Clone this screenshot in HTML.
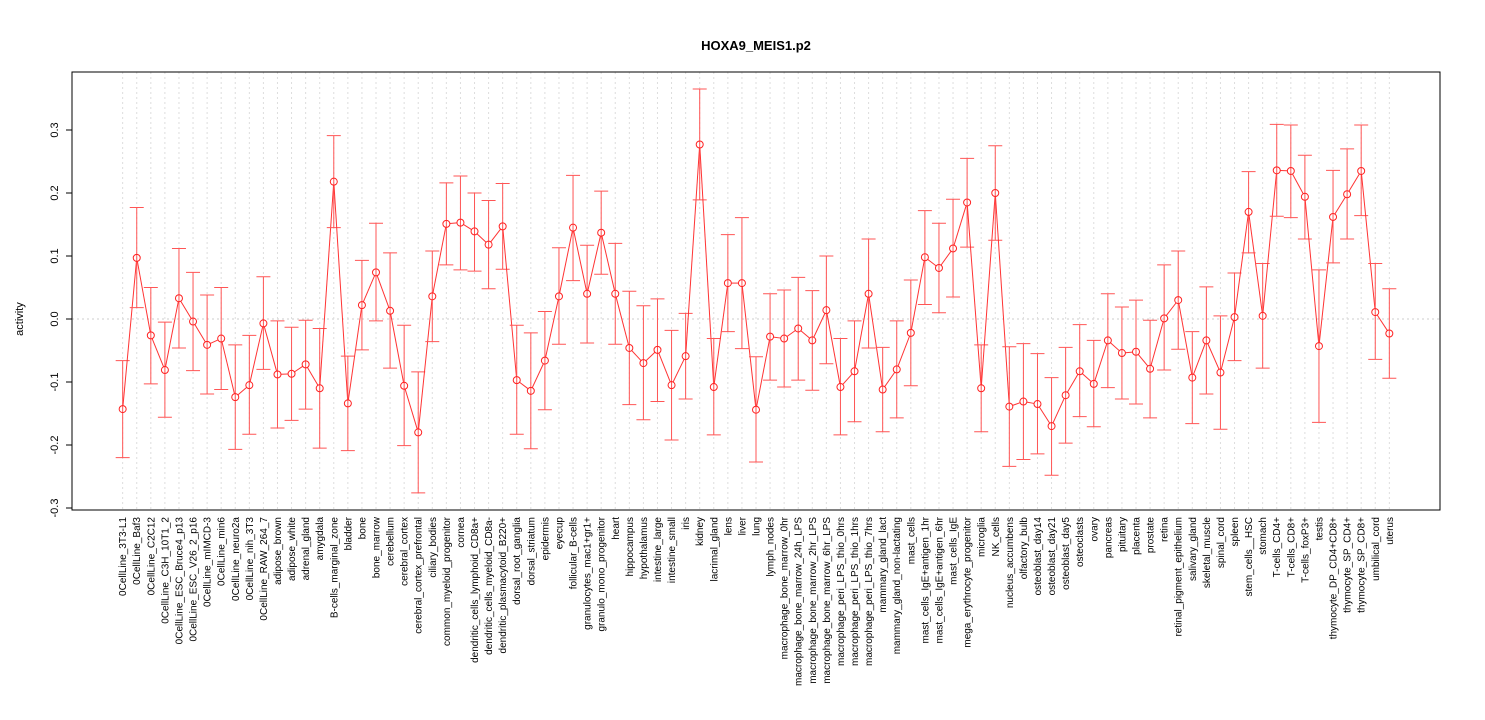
<!DOCTYPE html>
<html><head><meta charset="utf-8"><style>
body{margin:0;background:#fff;}
svg{display:block;font-family:"Liberation Sans",sans-serif;}
</style></head><body>
<svg id="chart" width="1485" height="720">
<text x="756" y="50" text-anchor="middle" font-weight="bold" font-size="13">HOXA9_MEIS1.p2</text>
<text transform="translate(23,319) rotate(-90)" text-anchor="middle" font-size="11">activity</text>
<g id="grid"></g><g id="yaxis"></g><g id="marks"></g><g id="xlabels"></g>
<rect x="72" y="72" width="1368" height="438" fill="none" stroke="#000"/>
</svg>
<script>
const categories=["0CellLine_3T3-L1","0CellLine_Baf3","0CellLine_C2C12","0CellLine_C3H_10T1_2","0CellLine_ESC_Bruce4_p13","0CellLine_ESC_V26_2_p16","0CellLine_mIMCD-3","0CellLine_min6","0CellLine_neuro2a","0CellLine_nih_3T3","0CellLine_RAW_264_7","adipose_brown","adipose_white","adrenal_gland","amygdala","B-cells_marginal_zone","bladder","bone","bone_marrow","cerebellum","cerebral_cortex","cerebral_cortex_prefrontal","ciliary_bodies","common_myeloid_progenitor","cornea","dendritic_cells_lymphoid_CD8a+","dendritic_cells_myeloid_CD8a-","dendritic_plasmacytoid_B220+","dorsal_root_ganglia","dorsal_striatum","epidermis","eyecup","follicular_B-cells","granulocytes_mac1+gr1+","granulo_mono_progenitor","heart","hippocampus","hypothalamus","intestine_large","intestine_small","iris","kidney","lacrimal_gland","lens","liver","lung","lymph_nodes","macrophage_bone_marrow_0hr","macrophage_bone_marrow_24h_LPS","macrophage_bone_marrow_2hr_LPS","macrophage_bone_marrow_6hr_LPS","macrophage_peri_LPS_thio_0hrs","macrophage_peri_LPS_thio_1hrs","macrophage_peri_LPS_thio_7hrs","mammary_gland_lact","mammary_gland_non-lactating","mast_cells","mast_cells_IgE+antigen_1hr","mast_cells_IgE+antigen_6hr","mast_cells_IgE","mega_erythrocyte_progenitor","microglia","NK_cells","nucleus_accumbens","olfactory_bulb","osteoblast_day14","osteoblast_day21","osteoblast_day5","osteoclasts","ovary","pancreas","pituitary","placenta","prostate","retina","retinal_pigment_epithelium","salivary_gland","skeletal_muscle","spinal_cord","spleen","stem_cells__HSC","stomach","T-cells_CD4+","T-cells_CD8+","T-cells_foxP3+","testis","thymocyte_DP_CD4+CD8+","thymocyte_SP_CD4+","thymocyte_SP_CD8+","umbilical_cord","uterus"];
const values=[-0.143,0.097,-0.026,-0.081,0.033,-0.004,-0.041,-0.031,-0.124,-0.105,-0.007,-0.088,-0.087,-0.072,-0.11,0.218,-0.134,0.022,0.074,0.013,-0.106,-0.18,0.036,0.151,0.153,0.139,0.118,0.147,-0.097,-0.114,-0.066,0.036,0.145,0.04,0.137,0.04,-0.046,-0.07,-0.049,-0.105,-0.059,0.277,-0.108,0.057,0.057,-0.144,-0.028,-0.031,-0.015,-0.034,0.014,-0.108,-0.083,0.04,-0.112,-0.08,-0.022,0.098,0.081,0.112,0.185,-0.11,0.2,-0.139,-0.131,-0.135,-0.17,-0.121,-0.083,-0.103,-0.034,-0.054,-0.052,-0.079,0.001,0.03,-0.093,-0.034,-0.085,0.003,0.17,0.005,0.236,0.235,0.194,-0.043,0.162,0.198,0.235,0.011,-0.023];
const upper=[-0.066,0.177,0.05,-0.005,0.112,0.074,0.038,0.05,-0.041,-0.026,0.067,-0.003,-0.013,-0.002,-0.015,0.291,-0.059,0.093,0.152,0.105,-0.01,-0.084,0.108,0.216,0.227,0.2,0.188,0.215,-0.01,-0.022,0.012,0.113,0.228,0.117,0.203,0.12,0.044,0.021,0.032,-0.018,0.009,0.365,-0.031,0.134,0.161,-0.06,0.04,0.046,0.066,0.045,0.1,-0.031,-0.003,0.127,-0.045,-0.003,0.062,0.172,0.152,0.19,0.255,-0.041,0.275,-0.044,-0.039,-0.055,-0.093,-0.045,-0.009,-0.034,0.04,0.019,0.03,-0.002,0.086,0.108,-0.02,0.051,0.005,0.073,0.234,0.088,0.309,0.308,0.26,0.078,0.236,0.27,0.308,0.088,0.048];
const lower=[-0.22,0.018,-0.103,-0.156,-0.046,-0.082,-0.119,-0.112,-0.207,-0.183,-0.08,-0.173,-0.161,-0.143,-0.205,0.145,-0.209,-0.049,-0.003,-0.078,-0.201,-0.276,-0.036,0.086,0.078,0.076,0.048,0.079,-0.183,-0.206,-0.144,-0.04,0.061,-0.038,0.071,-0.04,-0.136,-0.16,-0.131,-0.192,-0.127,0.189,-0.184,-0.02,-0.047,-0.227,-0.097,-0.108,-0.097,-0.113,-0.071,-0.184,-0.163,-0.046,-0.179,-0.157,-0.106,0.023,0.01,0.035,0.114,-0.179,0.125,-0.234,-0.223,-0.214,-0.248,-0.197,-0.155,-0.171,-0.109,-0.127,-0.135,-0.157,-0.081,-0.048,-0.166,-0.119,-0.175,-0.066,0.105,-0.078,0.163,0.161,0.127,-0.164,0.089,0.127,0.164,-0.064,-0.094];
const yTicks=[-0.3,-0.2,-0.1,0.0,0.1,0.2,0.3];
const yTickLabels=["-0.3","-0.2","-0.1","0.0","0.1","0.2","0.3"];

const NS="http://www.w3.org/2000/svg";
const L=72,R=1440,n=categories.length;
const pad=(n-1)*0.04;
function xs(i){return L+(i+1-(1-pad))/((n-1)+2*pad)*(R-L);}
function ys(v){return 319-v*630;}
function mk(tag,attrs,parent){const e=document.createElementNS(NS,tag);for(const k in attrs)e.setAttribute(k,attrs[k]);parent.appendChild(e);return e;}
const grid=document.getElementById('grid'),yax=document.getElementById('yaxis'),marks=document.getElementById('marks'),xl=document.getElementById('xlabels');
let g=mk('line',{x1:L,x2:R,y1:ys(0),y2:ys(0),stroke:'#ccc','stroke-dasharray':'2,3'},grid);


yTicks.forEach((t,i)=>{
 const y=ys(t);
 const tk=mk('line',{x1:L-6,x2:L,y1:y,y2:y,stroke:'#000'},yax);
 
 
 const tx=mk('text',{transform:`translate(${L-14},${y}) rotate(-90)`,'text-anchor':'middle','font-size':'11'},yax);
 tx.textContent=yTickLabels[i];
 
 
});
const r=3.5;
for(let i=0;i<n;i++){
 const x=xs(i);
 const gl=mk('line',{x1:x,x2:x,y1:72,y2:510,stroke:'#ddd','stroke-dasharray':'2,3'},grid);
 
 
 const eb=mk('path',{d:`M${x},${ys(upper[i])}V${ys(lower[i])}M${x-7},${ys(upper[i])}H${x+7}M${x-7},${ys(lower[i])}H${x+7}`,stroke:'#f55',fill:'none'},marks);
 
 
 if(i<n-1){
  const x1=x,y1=ys(values[i]),x2=xs(i+1),y2=ys(values[i+1]);
  const dx=x2-x1,dy=y2-y1,d=Math.hypot(dx,dy);
  if(d>2*r+1){
   const ln=mk('line',{x1:x1+dx/d*r,y1:y1+dy/d*r,x2:x2-dx/d*r,y2:y2-dy/d*r,stroke:'#f33'},marks);
   
   
  }
 }
 const c=mk('circle',{cx:x,cy:ys(values[i]),r:r,fill:'none',stroke:'#f22'},marks);
 
 
 const t=mk('text',{transform:`translate(${x+3.5},517) rotate(-90)`,'text-anchor':'end','font-size':'10'},xl);
 t.textContent=categories[i];
 
 
}
</script>
</body></html>
